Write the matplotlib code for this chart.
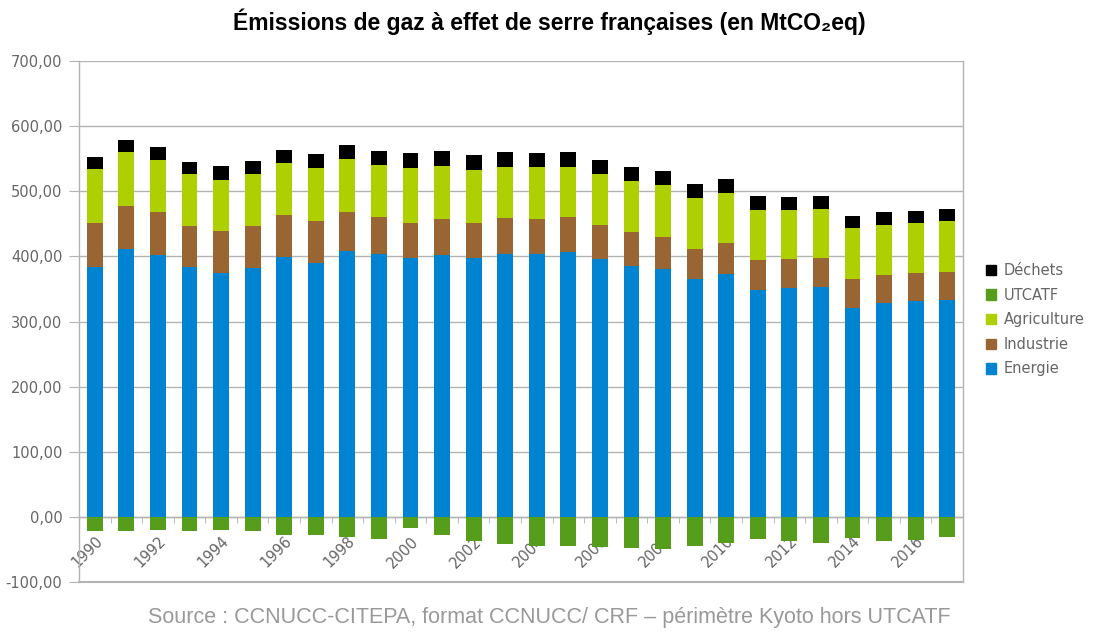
import numpy as np
import matplotlib
matplotlib.use("Agg")
import matplotlib.pyplot as plt
from matplotlib.patches import Patch
from matplotlib.ticker import FuncFormatter, MultipleLocator

# Emissions par secteur (MtCO2eq), 1990-2017
years = list(range(1990, 2018))
energie = [384, 411, 402, 383, 375, 382, 399, 390, 409, 404, 397, 402, 397, 404,
           404, 407, 396, 385, 380, 366, 373, 348.5, 351, 353, 321, 328, 331.5, 333]
industrie = [67, 67, 66, 63, 64, 64, 64, 65, 59, 56, 55, 55, 55, 55,
             54, 53, 52, 53, 50, 46, 47, 46, 44.5, 44.5, 44, 43.5, 42.5, 43.5]
agriculture = [83, 83, 80, 80, 79, 80, 81, 81, 81, 81, 83, 82, 81, 79,
               79, 78, 78, 78, 79, 78, 77, 77, 76, 76, 78, 77, 77, 78]
dechets = [18, 18, 19.5, 19, 21, 21, 20, 21, 22, 21, 23, 23, 22.5, 22,
           22, 22, 22, 22, 21.5, 21, 21.5, 20.5, 20, 19, 19, 19, 18, 18]
utcatf = [-22, -22, -19.5, -22, -19.5, -21.5, -27.5, -28, -30.5, -34, -16.5, -28, -37, -41,
          -44, -44.5, -47, -47.5, -49.5, -44.5, -39.5, -34.5, -36.5, -40.5, -32, -36.5, -35, -31]

colors = {
    "Energie": "#0084d1",
    "Industrie": "#996633",
    "Agriculture": "#aecf00",
    "UTCATF": "#579d1c",
    "Déchets": "#000000",
}
grey = "#b3b3b3"
text_grey = "#666666"

fig = plt.figure(figsize=(10.95, 6.34), dpi=100)
ax = fig.add_axes([79 / 1095, 52 / 634, 884 / 1095, 521 / 634])

x = np.arange(len(years))
width = 0.5

# barres empilees : positives vers le haut, UTCATF vers le bas
bottom = np.zeros(len(years))
for name, values in [("Energie", energie), ("Industrie", industrie),
                     ("Agriculture", agriculture), ("Déchets", dechets)]:
    ax.bar(x, values, width=width, bottom=bottom, color=colors[name], zorder=3)
    bottom += np.array(values)
ax.bar(x, utcatf, width=width, color=colors["UTCATF"], zorder=3)

ax.set_xlim(-0.5, len(years) - 0.5)
ax.set_ylim(-100, 700)
ax.yaxis.set_major_locator(MultipleLocator(100))
ax.yaxis.set_major_formatter(FuncFormatter(lambda v, p: f"{v:.2f}".replace(".", ",")))
ax.yaxis.grid(True, color=grey, linewidth=1, zorder=0)
ax.axhline(-100, color=grey, linewidth=1.5, clip_on=False, zorder=1)

# axe des abscisses sur la ligne zero
ax.spines["bottom"].set_position(("data", 0))
for side in ["left", "right", "bottom"]:
    ax.spines[side].set_color(grey)
    ax.spines[side].set_linewidth(1)
ax.spines["top"].set_visible(False)

ax.set_xticks(x[::2])
ax.set_xticklabels([str(y) for y in years[::2]], rotation=45, ha="right",
                   rotation_mode="anchor", fontsize=10.5, color=text_grey)
ax.set_xticks(np.arange(-0.5, len(years), 1), minor=True)
ax.tick_params(axis="x", which="major", length=0, pad=12)
ax.tick_params(axis="x", which="minor", length=4, color=grey)
ax.tick_params(axis="y", length=7, color=grey, labelsize=10.5,
               labelcolor=text_grey, pad=5)

fig.suptitle("Émissions de gaz à effet de serre françaises (en MtCO₂eq)",
             x=0.502, y=0.986, fontsize=16.5, fontweight="bold",
             family=["Liberation Sans", "DejaVu Sans"])

handles = [Patch(color=colors[n]) for n in ["Déchets", "UTCATF", "Agriculture", "Industrie", "Energie"]]
fig.legend(handles, ["Déchets", "UTCATF", "Agriculture", "Industrie", "Energie"],
           loc="upper left", bbox_to_anchor=(986 / 1095, 1 - 263 / 634),
           frameon=False, fontsize=10.5, labelcolor=text_grey,
           handlelength=0.7, handleheight=0.7, handletextpad=0.5,
           labelspacing=0.66, borderpad=0, borderaxespad=0)

fig.text(0.502, 0.01, "Source : CCNUCC-CITEPA, format CCNUCC/ CRF – périmètre Kyoto hors UTCATF",
         ha="center", va="bottom", fontsize=15.5, color="#999999",
         family=["Liberation Sans", "DejaVu Sans"])

fig.savefig("out.png", dpi=100, facecolor="white")
